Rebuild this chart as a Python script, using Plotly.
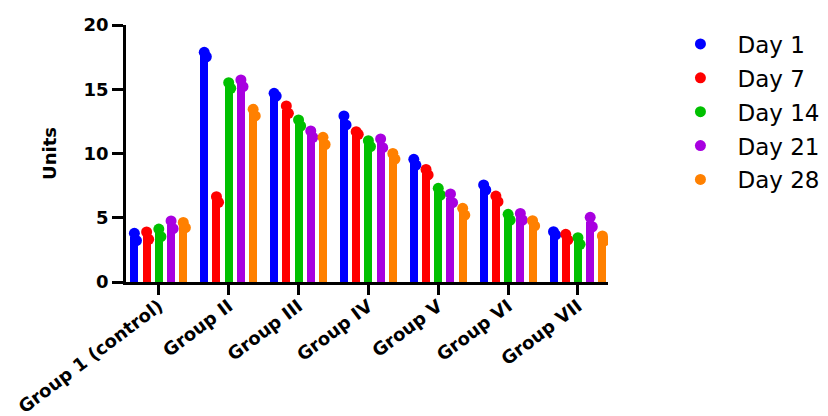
import numpy as np
import plotly.graph_objects as go

groups = ["Group 1 (control)", "Group II", "Group III", "Group IV", "Group V", "Group VI", "Group VII"]
days = ["Day 1", "Day 7", "Day 14", "Day 21", "Day 28"]
colors = ["#0000FF", "#FF0000", "#00C000", "#A800E0", "#FF8000"]

day1_rep1 = [3.79, 17.87, 14.68, 12.92, 9.55, 7.55, 3.92]
day1_rep2 = [3.22, 17.53, 14.47, 12.22, 9.10, 7.16, 3.66]
day7_rep1 = [3.89, 6.64, 13.70, 11.70, 8.76, 6.69, 3.71]
day7_rep2 = [3.32, 6.20, 13.13, 11.49, 8.33, 6.25, 3.27]
day14_rep1 = [4.12, 15.51, 12.61, 11.00, 7.29, 5.27, 3.45]
day14_rep2 = [3.53, 15.07, 12.14, 10.54, 6.77, 4.82, 2.93]
day21_rep1 = [4.75, 15.72, 11.75, 11.13, 6.85, 5.34, 5.03]
day21_rep2 = [4.15, 15.20, 11.26, 10.45, 6.17, 4.82, 4.30]
day28_rep1 = [4.64, 13.44, 11.26, 10.00, 5.73, 4.77, 3.58]
day28_rep2 = [4.23, 12.92, 10.70, 9.57, 5.21, 4.36, 3.21]

reps = [
    (day1_rep1, day1_rep2),
    (day7_rep1, day7_rep2),
    (day14_rep1, day14_rep2),
    (day21_rep1, day21_rep2),
    (day28_rep1, day28_rep2),
]

step = 0.175
bar_w = 0.115
dot_shift = 0.03
idx = np.arange(len(groups))

fig = go.Figure()
for j, (name, col, (r1, r2)) in enumerate(zip(days, colors, reps)):
    xc = idx + (j - 2) * step
    mean = (np.array(r1) + np.array(r2)) / 2
    fig.add_trace(go.Bar(x=xc, y=mean, width=bar_w, marker=dict(color=col, line=dict(width=0)),
                         showlegend=False, hoverinfo="skip"))
for j, (name, col, (r1, r2)) in enumerate(zip(days, colors, reps)):
    xc = idx + (j - 2) * step
    xs = np.concatenate([xc, xc + dot_shift])
    ys = np.concatenate([np.array(r1), np.array(r2)])
    fig.add_trace(go.Scatter(x=xs, y=ys, mode="markers", name=name, legendgroup=name,
                             marker=dict(color=col, size=11, line=dict(width=0))))

fig.update_layout(
    width=828, height=416,
    margin=dict(l=118, r=225, t=17, b=142),
    plot_bgcolor="white", paper_bgcolor="white",
    font=dict(family="DejaVu Sans, sans-serif", color="black"),
    legend=dict(x=1.115, y=1.01, xanchor="left", yanchor="top",
                font=dict(size=23, family="DejaVu Sans", color="black"), tracegroupgap=1,
                traceorder="grouped", itemsizing="trace", itemwidth=64),
    bargap=0,
)
fig.update_xaxes(
    range=[-0.47, 6.43], tickmode="array", tickvals=idx, ticktext=groups, automargin=False,
    tickangle=-37, ticks="outside", ticklen=10, tickwidth=2.5, tickcolor="black",
    ticklabelstandoff=-6,
    showline=True, linecolor="black", linewidth=2.5, showgrid=False, zeroline=False,
    tickfont=dict(size=18, family="DejaVu Sans", weight="bold", color="black"),
)
fig.update_yaxes(
    range=[0, 20], tickvals=[0, 5, 10, 15, 20], ticks="outside", ticklen=11, tickwidth=2.5,
    tickcolor="black", showline=True, linecolor="black", linewidth=2.5, showgrid=False,
    zeroline=False, automargin=False,
    tickfont=dict(size=18, family="DejaVu Sans", weight="bold", color="black"),
    title=dict(text="Units", font=dict(size=18, family="DejaVu Sans", weight="bold", color="black"), standoff=23),
)

fig.write_html("out.html")
